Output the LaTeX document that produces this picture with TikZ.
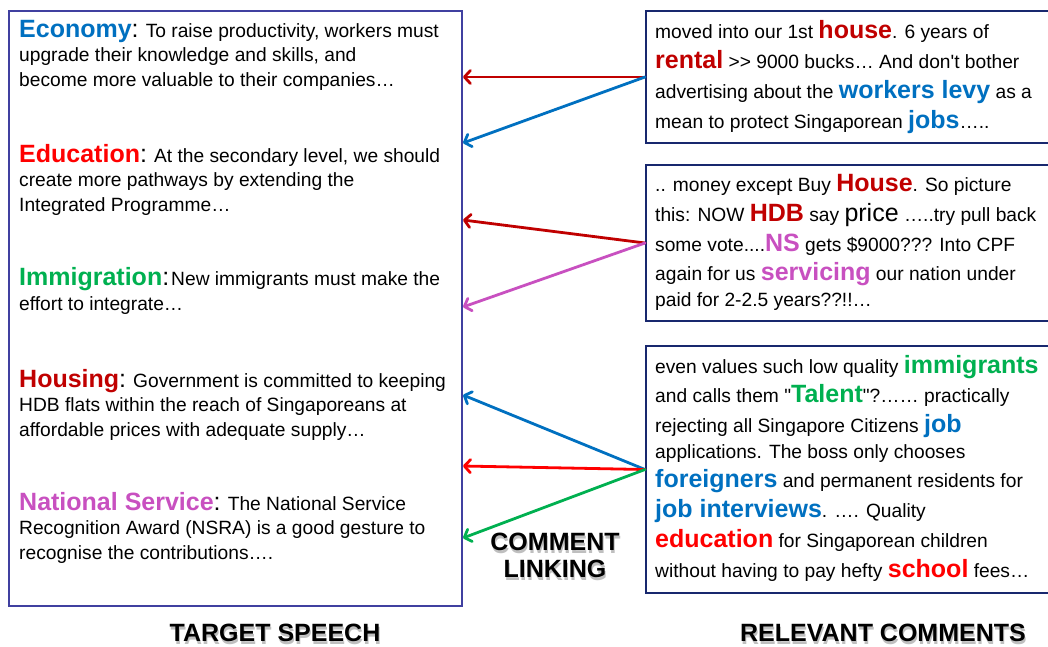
\documentclass[tikz,border=0pt]{standalone}
\usepackage{fontspec}
\setmainfont{Liberation Sans}
\newfontfamily\plainquote{Liberation Sans}
\usetikzlibrary{arrows.meta,positioning}

\definecolor{ecoblue}{RGB}{0,112,192}
\definecolor{edured}{RGB}{255,0,0}
\definecolor{immgreen}{RGB}{0,176,80}
\definecolor{housered}{RGB}{192,0,0}
\definecolor{nsviolet}{RGB}{200,80,192}
\definecolor{speechframe}{RGB}{64,64,160}
\definecolor{commentframe}{RGB}{24,40,110}

\newcommand{\topic}[2]{{\fontsize{25}{25}\selectfont\bfseries\color{#1}#2}{\fontsize{25}{25}\selectfont:}}
\newcommand{\hot}[2]{{\fontsize{25}{25}\selectfont\bfseries\color{#1}#2}}
\newcommand{\sq}{{\plainquote'}}
\newcommand{\dq}{{\plainquote"}}

\begin{document}
\begin{tikzpicture}[x=1pt,y=-1pt]

	\tikzset{
	  speechbox/.style={draw=speechframe, line width=2pt, anchor=north west,
		minimum width=453pt, minimum height=595pt, inner sep=0pt},
	  commentbox/.style={draw=commentframe, line width=2pt, anchor=north west,
		minimum width=420pt, inner sep=0pt},
	  speechtext/.style={anchor=base west, align=left, inner sep=0pt,
		font=\fontsize{19.2}{24.5}\selectfont},
	  commenttext/.style={anchor=base west, align=left, inner sep=0pt,
		font=\fontsize{19.2}{29.7}\selectfont},
	  link/.style={line width=2.8pt, line cap=round,
		-{Straight Barb[length=6pt,width=13pt,round]}},
	  caption/.style={anchor=base, align=center, inner sep=0pt,
		font=\fontsize{25}{27}\selectfont\bfseries},
	}
	\useasboundingbox (0,0) rectangle (1048,646);
	\clip (0,0) rectangle (1048,646);

	\node[speechbox] (speech) at (8,10) {};
	\node[commentbox, minimum height=132pt] (c1) at (645,10) {};
	\node[commentbox, minimum height=156pt] (c2) at (645,164) {};
	\node[commentbox, minimum height=247pt] (c3) at (645,345) {};

	% last baselines
	\node[speechtext] (economy) at (19,86) {\topic{ecoblue}{Economy} To raise productivity, workers must\\
		upgrade their knowledge and skills, and\\
		become more valuable to their  companies…};
	\node[speechtext] (education) at (19,211) {\topic{edured}{Education} At the secondary level, we should\\
		create more pathways by extending the\\
		Integrated Programme…};
	\node[speechtext] (immigration) at (19,310) {\topic{immgreen}{Immigration}\kern2pt New immigrants must make the\\
		effort to integrate…};
	\node[speechtext] (housing) at (19,436) {\topic{housered}{Housing} Government is committed to keeping\\
		HDB flats within the reach  of Singaporeans at\\
		affordable prices with adequate supply…};
	\node[speechtext] (service) at (19,559) {\topic{nsviolet}{National Service} The National Service\\
		Recognition Award (NSRA) is a good  gesture to\\
		recognise the contributions….};

	\node[commenttext] (comment1) at (655,128) {moved into our 1st \hot{housered}{house}. 6 years of\\
		\hot{housered}{rental} >{}> 9000 bucks… And don\sq t bother\\
		advertising about the \hot{ecoblue}{workers levy} as a\\
		mean to protect Singaporean \hot{ecoblue}{jobs}…..};
	\node[commenttext] (comment2) at (655,306) {.. money except Buy \hot{housered}{House}. So picture\\
		this: NOW \hot{housered}{HDB} say {\fontsize{25}{25}\selectfont price} …..try pull back\\
		some vote....\hot{nsviolet}{NS} gets \$9000??? Into CPF\\
		again for us \hot{nsviolet}{servicing} our nation under\\[-4.5pt]
		paid for 2-2.5 years??!!…};
	\node[commenttext] (comment3) at (655,577) {even values such low quality \hot{immgreen}{immigrants}\\
		and calls them \dq\hot{immgreen}{Talent}\dq?…… practically\\
		rejecting all Singapore Citizens \hot{ecoblue}{job}\\[-4pt]
		applications. The boss only chooses\\
		\hot{ecoblue}{foreigners} and permanent residents for\\
		\hot{ecoblue}{job interviews}. …. Quality\\
		\hot{edured}{education} for Singaporean children\\
		without having to pay hefty \hot{edured}{school} fees…};

	\draw[link, housered] (c1.west) -- (c1.west -| speech.east);
	\draw[link, ecoblue] (c1.west) -- (speech.east |- 0,143);
	\draw[link, housered] (c2.west) -- (speech.east |- 0,220);
	\draw[link, nsviolet] (c2.west) -- (speech.east |- 0,307);
	\draw[link, ecoblue] (c3.west) -- (speech.east |- 0,395);
	\draw[link, edured] (c3.west) -- (speech.east |- 0,466);
	\draw[link, immgreen] (c3.west) -- (speech.east |- 0,538);

	\node[caption, text=black!25] (linkingshadow) at (556,580) {COMMENT\\LINKING};
	\node[caption] (linking) at (555,577) {COMMENT\\LINKING};
	\node[caption, text=black!25] (speechtitleshadow) at (276,644) {TARGET SPEECH};
	\node[caption] (speechtitle) at (275,641) {TARGET SPEECH};
	\node[caption, text=black!25] (commentstitleshadow) at (884,644) {RELEVANT COMMENTS};
	\node[caption] (commentstitle) at (883,641) {RELEVANT COMMENTS};

\end{tikzpicture}
\end{document}
